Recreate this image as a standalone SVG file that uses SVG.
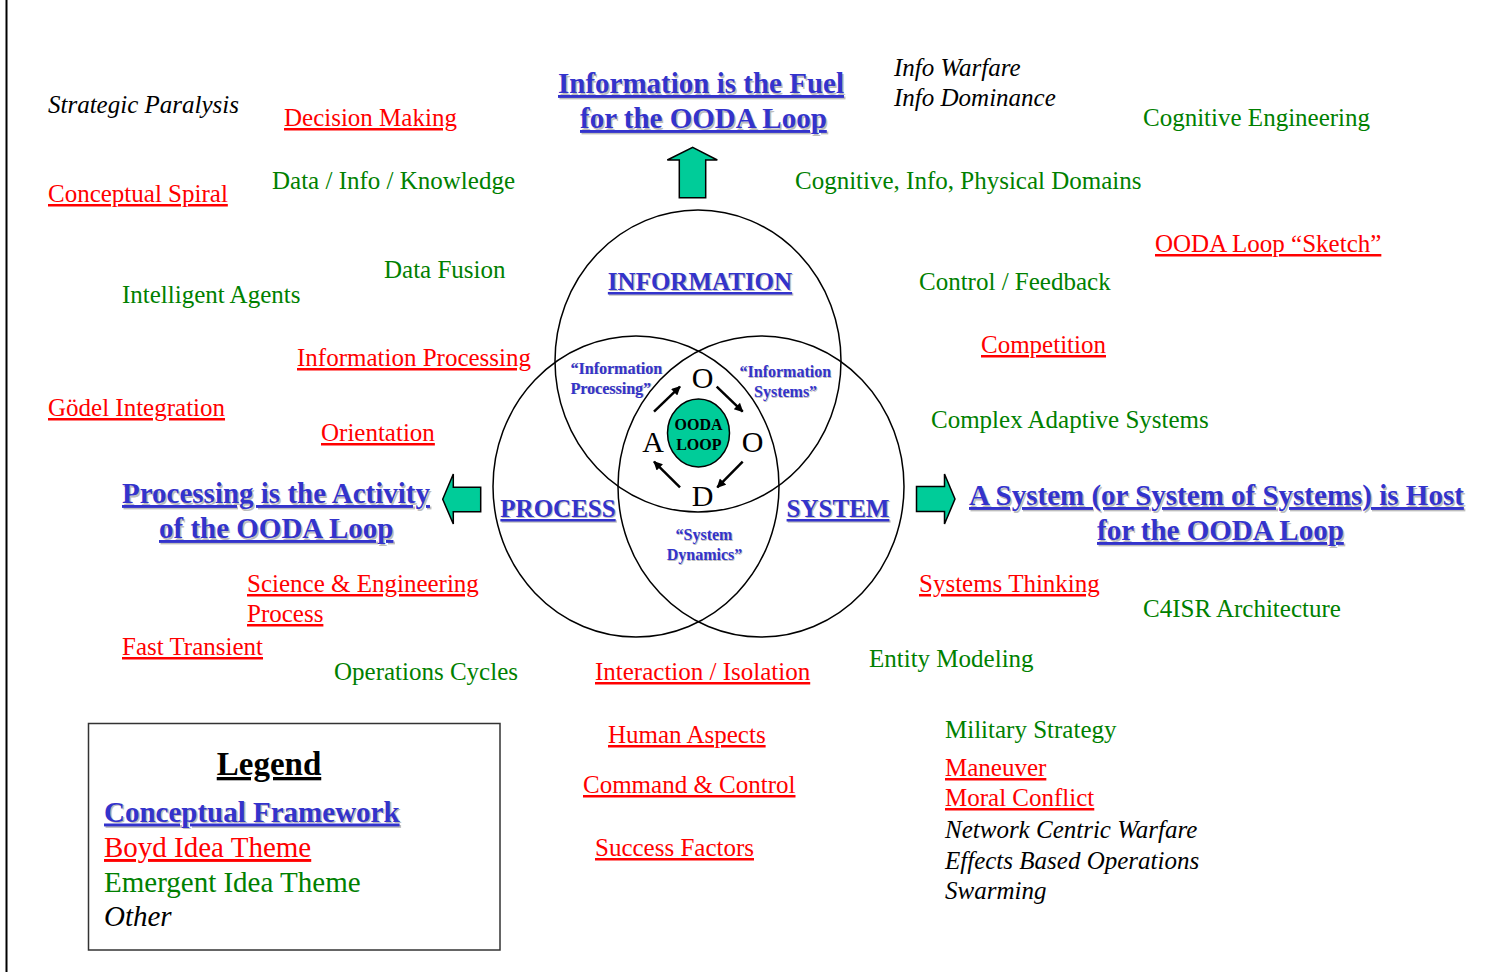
<svg xmlns="http://www.w3.org/2000/svg" width="1495" height="972" viewBox="0 0 1495 972">
<defs>
<style>
text { font-family: "Liberation Serif", "Times New Roman", serif; }
.t { font-size: 25px; }
.r { fill: #FF0000; text-decoration: underline; }
.g { fill: #008000; }
.k { fill: #000000; font-style: italic; }
.h { font-size: 29px; font-weight: bold; text-decoration: underline; }
.m { font-size: 25px; font-weight: bold; text-decoration: underline; }
.s { font-size: 16px; font-weight: bold; }
.bl { fill: #3333CC; }
.sh { fill: #BDBDBD; }
.ring { fill: none; stroke: #000; stroke-width: 1.5; }
.bigarrow { fill: #00CC99; stroke: #000; stroke-width: 1.5; stroke-linejoin: miter; }
.ooda { font-size: 30px; fill: #000; }
.conn { stroke: #000; stroke-width: 2.5; fill: none; marker-end: url(#ah); }
</style>
<marker id="ah" viewBox="0 0 10 10" refX="9" refY="5" markerWidth="11" markerHeight="9" markerUnits="userSpaceOnUse" orient="auto">
<path d="M0,0 L10,5 L0,10 Z" fill="#000"/>
</marker>
</defs>
<rect x="0" y="0" width="1495" height="972" fill="#FFFFFF"/>
<line x1="6.5" y1="0" x2="6.5" y2="972" stroke="#000" stroke-width="2"/>

<g id="venn">
<ellipse id="circle-information" class="ring" cx="698" cy="361" rx="143" ry="151"/>
<ellipse id="circle-process" class="ring" cx="636" cy="486.5" rx="143" ry="150.5"/>
<ellipse id="circle-system" class="ring" cx="761" cy="486.5" rx="143" ry="150.5"/>
</g>

<g id="ooda-loop">
<ellipse cx="698.5" cy="433" rx="31" ry="34" fill="#00CC99" stroke="#000" stroke-width="1.5"/>
<text class="s" x="698.5" y="429.5" text-anchor="middle" fill="#000">OODA</text>
<text class="s" x="698.8" y="450" text-anchor="middle" fill="#000">LOOP</text>
</g>
<g id="letter-observe"><text class="ooda" x="702.7" y="388" text-anchor="middle">O</text></g>
<g id="letter-orient"><text class="ooda" x="752.7" y="452" text-anchor="middle">O</text></g>
<g id="letter-decide"><text class="ooda" x="702.7" y="506" text-anchor="middle">D</text></g>
<g id="letter-act"><text class="ooda" x="653" y="452" text-anchor="middle">A</text></g>

<g id="connectors">
<line class="conn" x1="654" y1="411.7" x2="680" y2="386.7"/>
<line class="conn" x1="716.7" y1="386.7" x2="742.7" y2="411.7"/>
<line class="conn" x1="742.7" y1="461.7" x2="717.3" y2="487.3"/>
<line class="conn" x1="680" y1="487.3" x2="654" y2="461.7"/>
</g>

<g id="label-information">
<text class="m sh" x="701.2" y="291.2" text-anchor="middle">INFORMATION</text>
<text class="m bl" x="700" y="290" text-anchor="middle">INFORMATION</text>
</g>
<g id="label-process">
<text class="m sh" x="559.2" y="518.2" text-anchor="middle">PROCESS</text>
<text class="m bl" x="558" y="517" text-anchor="middle">PROCESS</text>
</g>
<g id="label-system">
<text class="m sh" x="839.2" y="518.2" text-anchor="middle">SYSTEM</text>
<text class="m bl" x="838" y="517" text-anchor="middle">SYSTEM</text>
</g>
<g id="label-info-processing">
<text class="s sh" x="571.3" y="374.3">“Information</text>
<text class="s bl" x="570.5" y="373.5">“Information</text>
<text class="s sh" x="571.3" y="394.3">Processing”</text>
<text class="s bl" x="570.5" y="393.5">Processing”</text>
</g>
<g id="label-info-systems">
<text class="s sh" x="740.3" y="377.8">“Information</text>
<text class="s bl" x="739.5" y="377">“Information</text>
<text class="s sh" x="754.8" y="397.8">Systems”</text>
<text class="s bl" x="754" y="397">Systems”</text>
</g>
<g id="label-system-dynamics">
<text class="s sh" x="704.8" y="540.8" text-anchor="middle">“System</text>
<text class="s bl" x="704" y="540" text-anchor="middle">“System</text>
<text class="s sh" x="705.3" y="560.8" text-anchor="middle">Dynamics”</text>
<text class="s bl" x="704.5" y="560" text-anchor="middle">Dynamics”</text>
</g>

<g id="arrow-up">
<path class="bigarrow" d="M692.7,147.3 L717.3,160 L705.7,160 L705.7,197.7 L679.3,197.7 L679.3,160 L667.3,160 Z"/>
</g>
<g id="arrow-left">
<path class="bigarrow" d="M442.7,499.3 L453.3,474 L453.3,487.3 L480.7,487.3 L480.7,511.7 L453.3,511.7 L453.3,524 Z"/>
</g>
<g id="arrow-right">
<path class="bigarrow" d="M955,499 L944.5,474 L944.5,486.5 L916.5,486.5 L916.5,511.5 L944.5,511.5 L944.5,524 Z"/>
</g>

<g id="heading-fuel">
<text class="h sh" x="559.5" y="94.5">Information is the Fuel</text>
<text class="h bl" x="558" y="93">Information is the Fuel</text>
<text class="h sh" x="581.5" y="129.5">for the OODA Loop</text>
<text class="h bl" x="580" y="128">for the OODA Loop</text>
</g>
<g id="heading-activity">
<text class="h sh" x="123.5" y="504.5">Processing is the Activity</text>
<text class="h bl" x="122" y="503">Processing is the Activity</text>
<text class="h sh" x="160.5" y="539.5">of the OODA Loop</text>
<text class="h bl" x="159" y="538">of the OODA Loop</text>
</g>
<g id="heading-host">
<text class="h sh" x="970.5" y="506.5">A System (or System of Systems) is Host</text>
<text class="h bl" x="969" y="505">A System (or System of Systems) is Host</text>
<text class="h sh" x="1098.5" y="541.5">for the OODA Loop</text>
<text class="h bl" x="1097" y="540">for the OODA Loop</text>
</g>

<g id="themes">
<g id="strategic-paralysis"><text class="t k" x="48" y="113">Strategic Paralysis</text></g>
<g id="decision-making"><text class="t r" x="284" y="126">Decision Making</text></g>
<g id="info-warfare"><text class="t k" x="894" y="76">Info Warfare</text><text class="t k" x="894" y="106">Info Dominance</text></g>
<g id="cognitive-engineering"><text class="t g" x="1143" y="126">Cognitive Engineering</text></g>
<g id="conceptual-spiral"><text class="t r" x="48" y="202">Conceptual Spiral</text></g>
<g id="data-info-knowledge"><text class="t g" x="272" y="189">Data / Info / Knowledge</text></g>
<g id="domains"><text class="t g" x="795" y="189">Cognitive, Info, Physical Domains</text></g>
<g id="ooda-sketch"><text class="t r" x="1155" y="252">OODA Loop “Sketch”</text></g>
<g id="data-fusion"><text class="t g" x="384" y="278">Data Fusion</text></g>
<g id="intelligent-agents"><text class="t g" x="122" y="303">Intelligent Agents</text></g>
<g id="control-feedback"><text class="t g" x="919" y="290">Control / Feedback</text></g>
<g id="competition"><text class="t r" x="981" y="353">Competition</text></g>
<g id="information-processing"><text class="t r" x="297" y="366">Information Processing</text></g>
<g id="godel-integration"><text class="t r" x="48" y="416">Gödel Integration</text></g>
<g id="orientation"><text class="t r" x="321" y="441">Orientation</text></g>
<g id="complex-adaptive"><text class="t g" x="931" y="428">Complex Adaptive Systems</text></g>
<g id="science-engineering"><text class="t r" x="247" y="592">Science &amp; Engineering</text><text class="t r" x="247" y="622">Process</text></g>
<g id="systems-thinking"><text class="t r" x="919" y="592">Systems Thinking</text></g>
<g id="c4isr"><text class="t g" x="1143" y="617">C4ISR Architecture</text></g>
<g id="fast-transient"><text class="t r" x="122" y="655">Fast Transient</text></g>
<g id="operations-cycles"><text class="t g" x="334" y="680">Operations Cycles</text></g>
<g id="interaction-isolation"><text class="t r" x="595" y="680">Interaction / Isolation</text></g>
<g id="entity-modeling"><text class="t g" x="869" y="667">Entity Modeling</text></g>
<g id="military-strategy"><text class="t g" x="945" y="738">Military Strategy</text></g>
<g id="human-aspects"><text class="t r" x="608" y="743">Human Aspects</text></g>
<g id="maneuver"><text class="t r" x="945" y="776">Maneuver</text></g>
<g id="command-control"><text class="t r" x="583" y="793">Command &amp; Control</text></g>
<g id="moral-conflict"><text class="t r" x="945" y="806">Moral Conflict</text></g>
<g id="ncw"><text class="t k" x="945" y="838">Network Centric Warfare</text></g>
<g id="success-factors"><text class="t r" x="595" y="856">Success Factors</text></g>
<g id="ebo"><text class="t k" x="945" y="869">Effects Based Operations</text></g>
<g id="swarming"><text class="t k" x="945" y="899">Swarming</text></g>
</g>

<g id="legend">
<rect x="88.5" y="723.5" width="411.5" height="226.5" fill="none" stroke="#333" stroke-width="1.5"/>
<text x="269" y="775" text-anchor="middle" font-size="33" font-weight="bold" text-decoration="underline" fill="#000">Legend</text>
<text class="h sh" x="105.5" y="823">Conceptual Framework</text>
<text class="h bl" x="104" y="821.5">Conceptual Framework</text>
<text class="r" x="104" y="857" font-size="29">Boyd Idea Theme</text>
<text class="g" x="104" y="892" font-size="29">Emergent Idea Theme</text>
<text class="k" x="104" y="926" font-size="29">Other</text>
</g>
</svg>
